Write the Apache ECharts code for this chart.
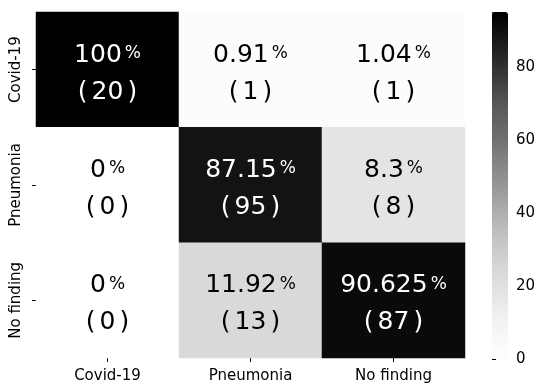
<!DOCTYPE html>
<html>
<head>
<meta charset="utf-8">
<script src="https://cdn.jsdelivr.net/npm/echarts@6/dist/echarts.min.js"></script>
<style>
  html, body { margin: 0; padding: 0; background: #fff; }
  #chart { width: 544px; height: 384px; }
</style>
</head>
<body>
<div id="chart"></div>
<script>
const labels = ['Covid-19', 'Pneumonia', 'No finding'];
// row = true class, column = predicted
const percents = [
  [100, 0.91, 1.04],
  [0, 87.15, 8.3],
  [0, 11.92, 90.625]
];
const counts = [
  [20, 1, 1],
  [0, 95, 8],
  [0, 13, 87]
];
const barTicks = [0, 20, 40, 60, 80];
const colorMax = 95;

const font = 'DejaVu Sans';
// colour bar uses the matplotlib "Greys" ramp
const greys = ['#ffffff', '#f0f0f0', '#d9d9d9', '#bdbdbd', '#969696', '#737373', '#525252', '#252525', '#000000'];
// cells in the picture come out a bit darker at the light end
const cellGreys = ['#ffffff', '#d9d9d9', '#bdbdbd', '#969696', '#737373', '#525252', '#353535', '#1c1c1c', '#000000'];

const cells = [];
for (let r = 0; r < labels.length; r++) {
  for (let c = 0; c < labels.length; c++) {
    cells.push([c, r, percents[r][c], counts[r][c]]);
  }
}

const chart = echarts.init(document.getElementById('chart'), null, { renderer: 'canvas' });

chart.setOption({
  animation: false,
  textStyle: { fontFamily: font },
  grid: [
    { left: 36, right: 79, top: 12, bottom: 25 },
    { left: 492, width: 16, top: 12, height: 347 }
  ],
  xAxis: [
    {
      type: 'category',
      data: labels,
      gridIndex: 0,
      axisLine: { show: false },
      axisTick: { show: true, alignWithLabel: true, length: 4, lineStyle: { color: '#000' } },
      axisLabel: { fontSize: 15, color: '#000', margin: 11, fontFamily: font },
      splitLine: { show: false }
    },
    { type: 'value', gridIndex: 1, show: false, min: 0, max: 1 }
  ],
  yAxis: [
    {
      type: 'category',
      data: labels,
      inverse: true,
      gridIndex: 0,
      axisLine: { show: false },
      axisTick: { show: true, alignWithLabel: true, length: 4, lineStyle: { color: '#000' } },
      axisLabel: { fontSize: 15, color: '#000', rotate: 90, margin: 12, fontFamily: font },
      splitLine: { show: false }
    },
    {
      type: 'value',
      gridIndex: 1,
      position: 'right',
      min: 0,
      max: colorMax,
      interval: 20,
      axisLine: { show: false },
      axisTick: { show: true, length: 4, lineStyle: { color: '#000' } },
      axisLabel: {
        fontSize: 15, color: '#000', margin: 8, fontFamily: font,
        formatter: v => (barTicks.indexOf(v) >= 0 ? String(v) : '')
      },
      splitLine: { show: false }
    }
  ],
  visualMap: [
    {
      type: 'continuous',
      seriesIndex: 0,
      dimension: 2,
      min: 0,
      max: colorMax,
      show: false,
      inRange: { color: cellGreys }
    },
    {
      type: 'continuous',
      seriesIndex: 1,
      min: 0,
      max: colorMax,
      calculable: false,
      orient: 'vertical',
      left: 492,
      top: 12,
      itemWidth: 16,
      itemHeight: 347,
      padding: 0,
      text: null,
      showLabel: false,
      inRange: { color: greys }
    }
  ],
  series: [
    {
      type: 'heatmap',
      xAxisIndex: 0,
      yAxisIndex: 0,
      data: cells,
      label: {
        show: true,
        fontFamily: font,
        offset: [0, 4],
        formatter: p => {
          const n = p.value[2] > 50 ? 'w' : 'k';
          return '{n' + n + '|' + p.value[2] + '}{p' + n + '|%}\n' +
            '{l' + n + '|(}{n' + n + '|' + p.value[3] + '}{r' + n + '|)}';
        },
        rich: {
          nw: { fontSize: 25, color: '#fff', lineHeight: 37, fontFamily: font },
          pw: { fontSize: 17, color: '#fff', lineHeight: 37, padding: [0, 0, 3, 3], fontFamily: font },
          lw: { fontSize: 25, color: '#fff', lineHeight: 37, padding: [0, 4, 0, 0], fontFamily: font },
          rw: { fontSize: 25, color: '#fff', lineHeight: 37, padding: [0, 0, 0, 4], fontFamily: font },
          nk: { fontSize: 25, color: '#000', lineHeight: 37, fontFamily: font },
          pk: { fontSize: 17, color: '#000', lineHeight: 37, padding: [0, 0, 3, 3], fontFamily: font },
          lk: { fontSize: 25, color: '#000', lineHeight: 37, padding: [0, 4, 0, 0], fontFamily: font },
          rk: { fontSize: 25, color: '#000', lineHeight: 37, padding: [0, 0, 0, 4], fontFamily: font }
        }
      },
      itemStyle: { borderWidth: 0 },
      emphasis: { disabled: true }
    },
    {
      type: 'heatmap',
      xAxisIndex: 1,
      yAxisIndex: 1,
      data: [],
      silent: true
    }
  ]
});
</script>
</body>
</html>
